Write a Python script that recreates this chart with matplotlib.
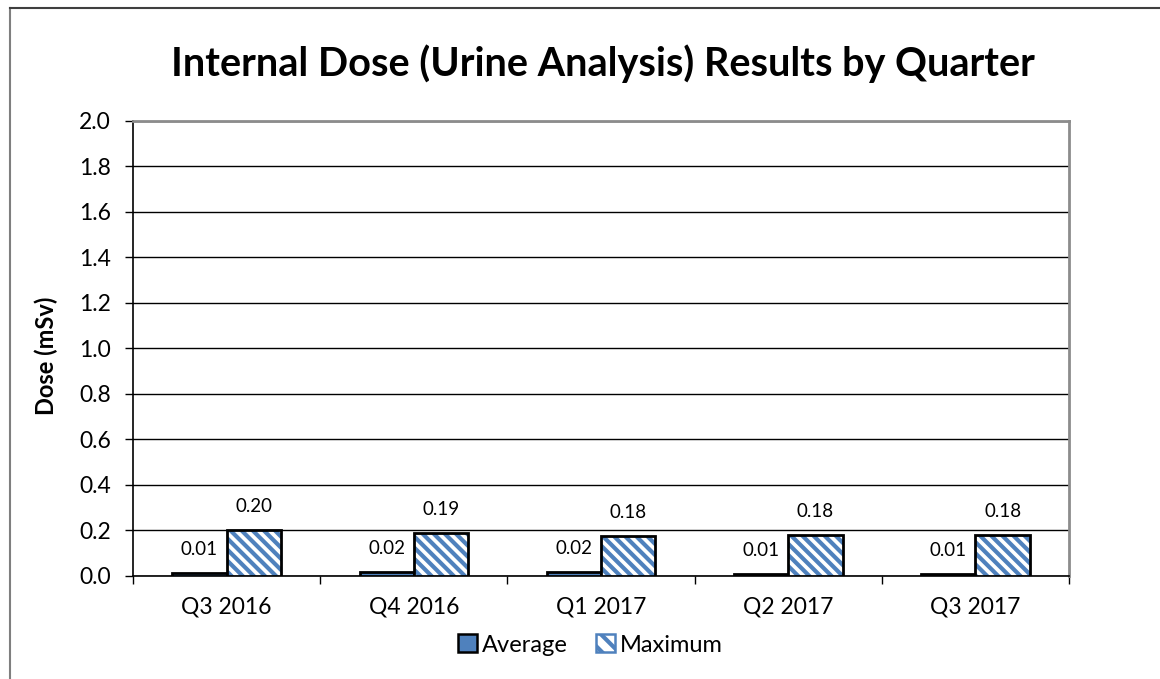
import numpy as np
import matplotlib.pyplot as plt
from matplotlib.patches import Patch
from matplotlib.lines import Line2D

plt.rcParams['font.family'] = ['Lato', 'DejaVu Sans']
plt.rcParams['hatch.linewidth'] = 3.0

quarters = ['Q3 2016', 'Q4 2016', 'Q1 2017', 'Q2 2017', 'Q3 2017']
average = [0.012, 0.016, 0.018, 0.009, 0.009]
maximum = [0.200, 0.187, 0.176, 0.179, 0.180]
avg_labels = ['0.01', '0.02', '0.02', '0.01', '0.01']
max_labels = ['0.20', '0.19', '0.18', '0.18', '0.18']

blue = '#4F81BD'

fig = plt.figure(figsize=(11.6, 6.79), dpi=100)
ax = fig.add_axes([0.1147, 0.1517, 0.8069, 0.6701])

x = np.arange(len(quarters))
w = 0.29

ax.bar(x - w / 2, average, w, color=blue, edgecolor='black', linewidth=2, zorder=3)
ax.bar(x + w / 2, maximum, w, color='white', edgecolor=blue, hatch='\\\\\\', linewidth=0, zorder=3)
ax.bar(x + w / 2, maximum, w, fill=False, edgecolor='black', linewidth=2, zorder=4)

for i in range(len(quarters)):
    ax.annotate(avg_labels[i], (x[i] - w / 2, average[i]), xytext=(0, 17), textcoords='offset points',
                ha='center', va='center', fontsize=13.5)
    ax.annotate(max_labels[i], (x[i] + w / 2, maximum[i]), xytext=(0, 17), textcoords='offset points',
                ha='center', va='center', fontsize=13.5)

ax.set_xlim(-0.5, len(quarters) - 0.5)
ax.set_ylim(0, 2.0)
ax.set_yticks(np.arange(0, 2.01, 0.2))
ax.set_yticklabels(['%.1f' % v for v in np.arange(0, 2.01, 0.2)], fontsize=16.5)
ax.set_xticks(x)
ax.set_xticklabels(quarters, fontsize=16.5)
ax.set_xticks(np.arange(-0.5, len(quarters), 1), minor=True)
ax.tick_params(axis='x', which='major', length=0, pad=15)
ax.tick_params(axis='x', which='minor', length=6, width=1, direction='out')
ax.tick_params(axis='y', length=6, width=1, direction='out', pad=10)
ax.yaxis.grid(True, color='black', linewidth=1)
ax.set_axisbelow(True)

for s in ['top', 'right']:
    ax.spines[s].set_color('#8c8c8c')
    ax.spines[s].set_linewidth(2)
ax.spines['left'].set_linewidth(1.2)
ax.spines['bottom'].set_linewidth(1.2)

ax.set_ylabel('Dose (mSv)', fontsize=17, fontweight='bold', va='center')
ax.yaxis.set_label_coords(46 / 1160, 1 - 356 / 679, transform=fig.transFigure)

fig.text(0.52, 1 - 76 / 679, 'Internal Dose (Urine Analysis) Results by Quarter', ha='center', va='baseline',
         fontsize=28.5, fontweight='bold')

handles = [Patch(facecolor=blue, edgecolor='black', linewidth=1.8),
           Patch(facecolor='white', edgecolor=blue, hatch='\\\\', linewidth=1.8)]
leg = fig.legend(handles, ['Average', 'Maximum'], loc='center', bbox_to_anchor=(0.509, 1 - 645 / 679), ncol=2,
                 frameon=False, fontsize=17, handlelength=0.8, handleheight=0.8, handletextpad=0.2,
                 columnspacing=1.2)

# outer chart frame
fig.add_artist(Line2D([10 / 1160, 10 / 1160], [0, 1 - 8 / 679], color='#7f7f7f', linewidth=1.5))
fig.add_artist(Line2D([10 / 1160, 1], [1 - 8 / 679, 1 - 8 / 679], color='#3f3f3f', linewidth=1.5))

fig.savefig('out.png', dpi=100)
